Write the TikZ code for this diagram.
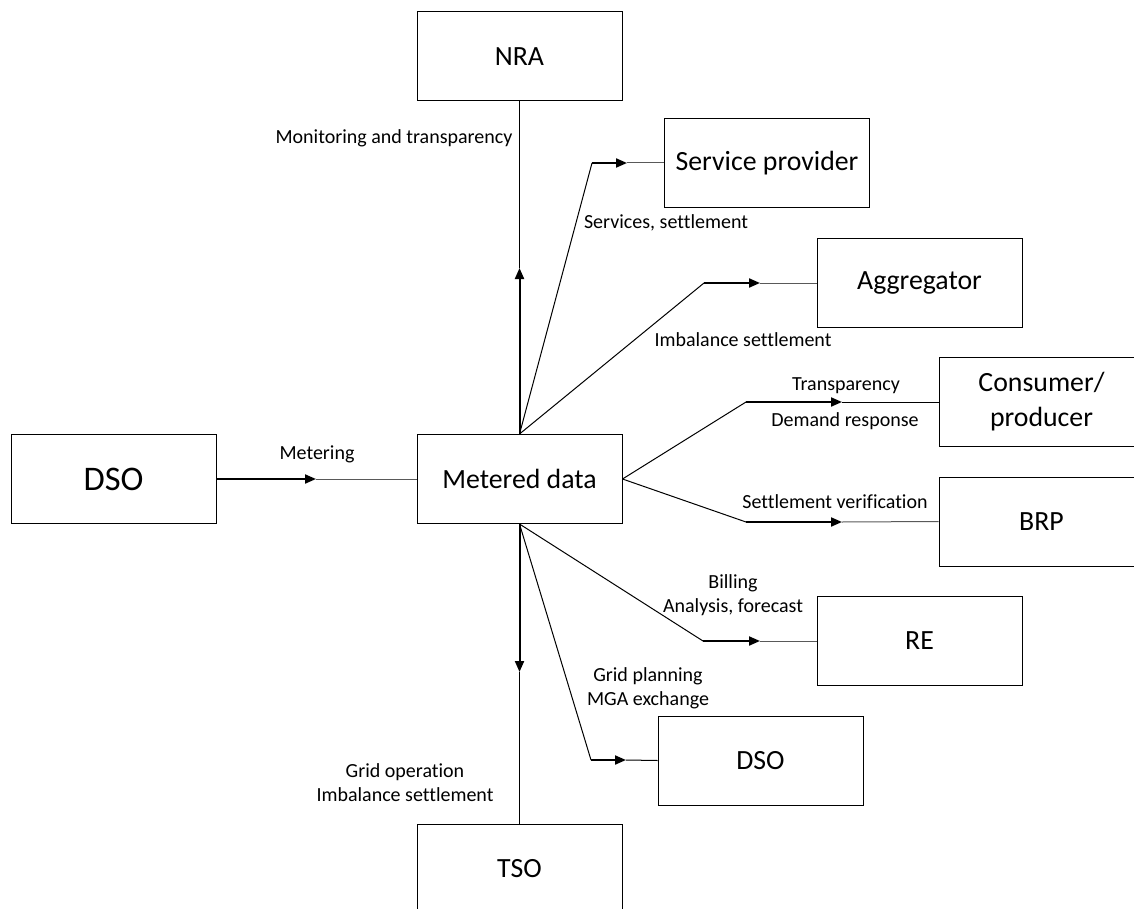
\documentclass[tikz,border=0pt]{standalone}
\usepackage{fontspec}
\setmainfont{Carlito}[Ligatures={NoCommon}]
\usetikzlibrary{arrows.meta}
\begin{document}
\begin{tikzpicture}[x=1pt,y=-1pt,
  box/.style={draw=black,line width=1pt,minimum width=205pt,minimum height=89pt,
    inner sep=0pt,font=\fontsize{27.8}{35}\selectfont},
  bigbox/.style={box,font=\fontsize{34.5}{40}\selectfont},
  lbl/.style={inner sep=0pt,text height=13pt,text depth=4pt,
    font=\fontsize{20}{24}\selectfont},
  link/.style={draw=black,line width=1pt},
  feed/.style={draw=black,line width=2pt,-{Triangle[length=11pt,width=9pt]}},
  tail/.style={draw=black!65,line width=1pt}]
\useasboundingbox (0,0) rectangle (1134,909);
\clip (0,0) rectangle (1134,909);

% boxes
\node[bigbox] (dso) at (113.5,479) {DSO};
\node[box] (md)  at (519.5,479) {Metered data};
\node[box] (nra) at (519.5,56.5) {NRA};
\node[box] (sp)  at (767,163) {Service provider};
\node[box] (agg) at (919.5,283) {Aggregator};
\node[box,align=center] (cp) at (1041.5,402) {Consumer/\\producer};
\node[box] (brp) at (1041.5,521.5) {BRP};
\node[box] (re)  at (919.5,641) {RE};
\node[box] (dsob) at (760.5,760.5) {DSO};
\node[box] (tso) at (519.5,868.5) {TSO};

% bends and arrow tips
\coordinate (tMet) at (316,479);
\coordinate (tNra) at (519.5,268);
\coordinate (tTso) at (519.5,672);
\coordinate (bSp)  at (592,163);   \coordinate (tSp)  at (627,163);
\coordinate (bAgg) at (704,283);   \coordinate (tAgg) at (760,283);
\coordinate (bCp)  at (746,402);   \coordinate (tCp)  at (842,402);
\coordinate (bBrp) at (746,522);   \coordinate (tBrp) at (842,522);
\coordinate (bRe)  at (703,641);   \coordinate (tRe)  at (760,641);
\coordinate (bDso) at (591,760);   \coordinate (tDso) at (626,760);

% DSO -> metered data
\draw[feed] (dso.east) -- (tMet);
\draw[tail] (tMet) -- (md.west);

% vertical links
\draw[feed] (md.north) -- (tNra);
\draw[link] (tNra) -- (nra.south);
\draw[feed] (md.south) -- (tTso);
\draw[link] (tTso) -- (tso.north);

% fan-out to the market parties
\draw[link] (md.north) -- (bSp);  \draw[feed] (bSp) -- (tSp);   \draw[tail] (tSp) -- (sp.west);
\draw[link] (md.north) -- (bAgg); \draw[feed] (bAgg) -- (tAgg); \draw[tail] (tAgg) -- (agg.west);
\draw[link] (md.east) -- (bCp);   \draw[feed] (bCp) -- (tCp);   \draw[link] (tCp) -- (cp.west);
\draw[link] (md.east) -- (bBrp);  \draw[feed] (bBrp) -- (tBrp); \draw[tail] (tBrp) -- (brp.west);
\draw[link] (md.south) -- (bRe);  \draw[feed] (bRe) -- (tRe);   \draw[tail] (tRe) -- (re.west);
\draw[link] (md.south) -- (bDso); \draw[feed] (bDso) -- (tDso); \draw[link] (tDso) -- (dsob.west);

% labels
\node[lbl] (l1)  at (317,455) {Metering};
\node[lbl] (l2)  at (394,139) {Monitoring and transparency};
\node[lbl] (l3)  at (666,224) {Services, settlement};
\node[lbl] (l4)  at (743,342) {Imbalance settlement};
\node[lbl] (l5)  at (846,386) {Transparency};
\node[lbl] (l6)  at (845,422) {Demand response};
\node[lbl] (l7)  at (835,504) {Settlement verification};
\node[lbl] (l8)  at (733,584) {Billing};
\node[lbl] (l9)  at (733,608) {Analysis, forecast};
\node[lbl] (l10) at (648,677) {Grid planning};
\node[lbl] (l11) at (648,701) {MGA exchange};
\node[lbl] (l12) at (405,773) {Grid operation};
\node[lbl] (l13) at (405,797) {Imbalance settlement};
\end{tikzpicture}
\end{document}
